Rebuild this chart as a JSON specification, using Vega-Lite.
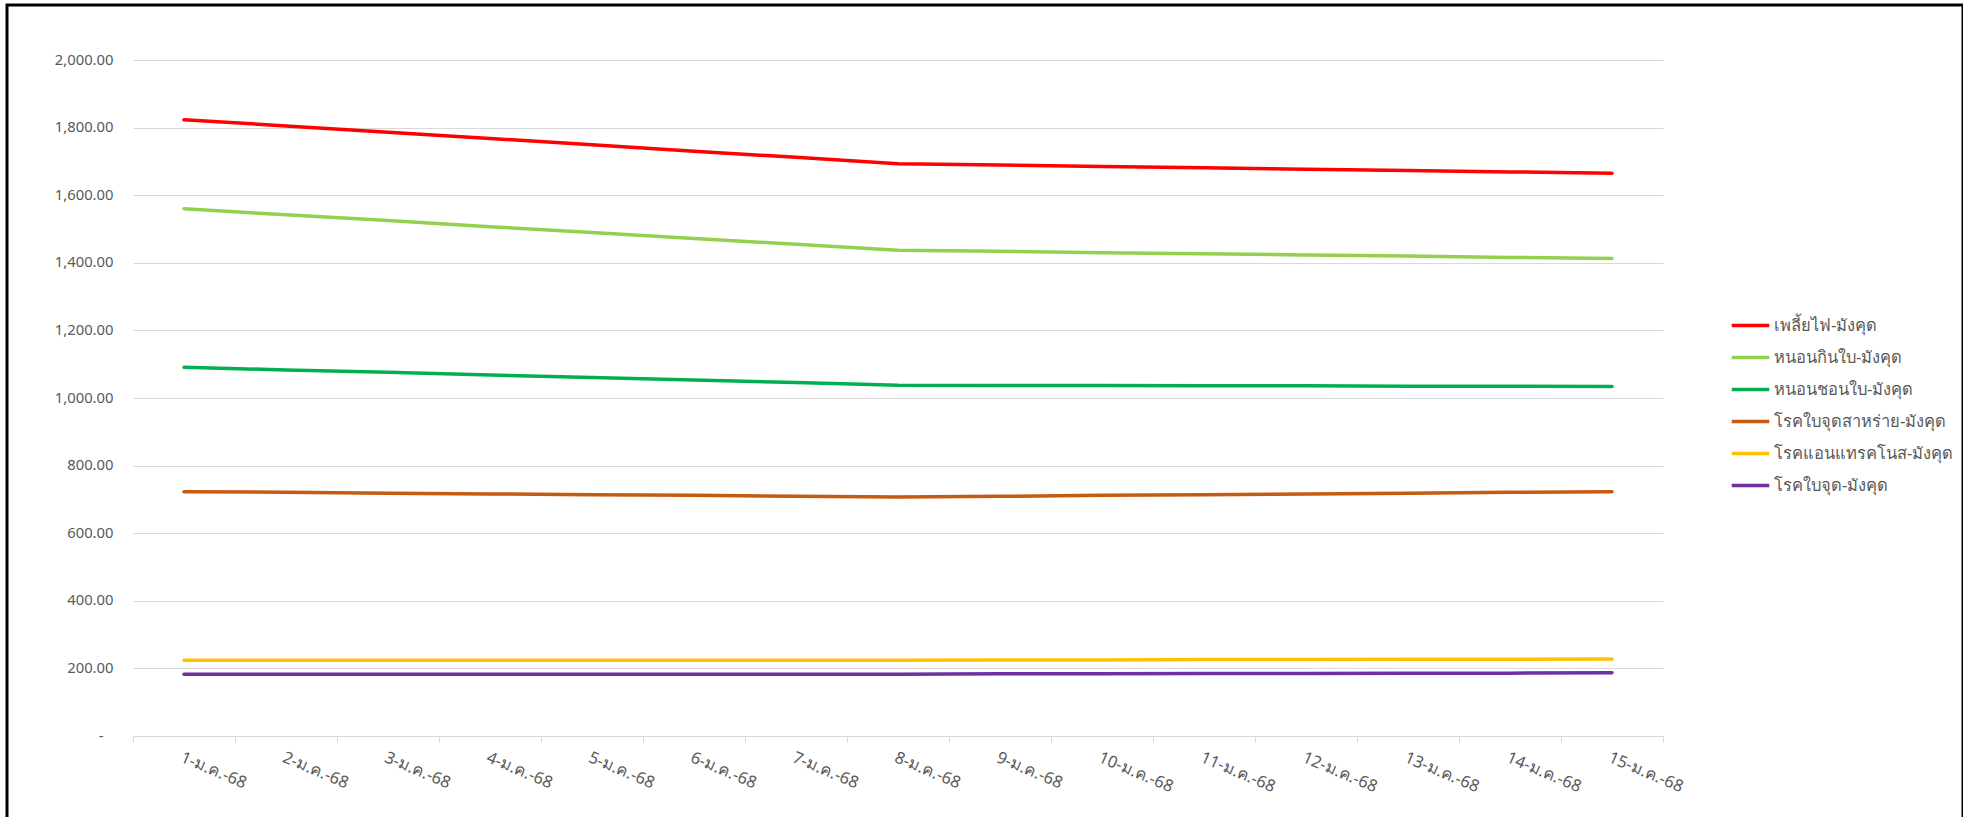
{
  "$schema": "https://vega.github.io/schema/vega-lite/v6.json",
  "autosize": {"type": "none"},
  "padding": {"left": 7, "top": 5, "right": 0, "bottom": 0},
  "width": 1956,
  "height": 830,
  "background": "#ffffff",
  "config": {
    "view": {"stroke": "#000000", "strokeWidth": 3, "fill": "#ffffff"},
    "font": "Noto Sans",
    "axis": {"labelFont": "Noto Sans", "labelColor": "#595959", "labelFontSize": 13, "gridColor": "#d9d9d9", "gridWidth": 1, "domainColor": "#d9d9d9", "tickColor": "#d9d9d9", "title": null}
  },
  "datasets": {
    "pests": [
      {"date": "1-ม.ค.-68", "series": "เพลี้ยไฟ-มังคุด", "value": 1823},
      {"date": "2-ม.ค.-68", "series": "เพลี้ยไฟ-มังคุด", "value": 1805},
      {"date": "3-ม.ค.-68", "series": "เพลี้ยไฟ-มังคุด", "value": 1786},
      {"date": "4-ม.ค.-68", "series": "เพลี้ยไฟ-มังคุด", "value": 1768},
      {"date": "5-ม.ค.-68", "series": "เพลี้ยไฟ-มังคุด", "value": 1749},
      {"date": "6-ม.ค.-68", "series": "เพลี้ยไฟ-มังคุด", "value": 1730},
      {"date": "7-ม.ค.-68", "series": "เพลี้ยไฟ-มังคุด", "value": 1712},
      {"date": "8-ม.ค.-68", "series": "เพลี้ยไฟ-มังคุด", "value": 1693},
      {"date": "9-ม.ค.-68", "series": "เพลี้ยไฟ-มังคุด", "value": 1689},
      {"date": "10-ม.ค.-68", "series": "เพลี้ยไฟ-มังคุด", "value": 1685},
      {"date": "11-ม.ค.-68", "series": "เพลี้ยไฟ-มังคุด", "value": 1681},
      {"date": "12-ม.ค.-68", "series": "เพลี้ยไฟ-มังคุด", "value": 1677},
      {"date": "13-ม.ค.-68", "series": "เพลี้ยไฟ-มังคุด", "value": 1673},
      {"date": "14-ม.ค.-68", "series": "เพลี้ยไฟ-มังคุด", "value": 1669},
      {"date": "15-ม.ค.-68", "series": "เพลี้ยไฟ-มังคุด", "value": 1665},
      {"date": "1-ม.ค.-68", "series": "หนอนกินใบ-มังคุด", "value": 1560},
      {"date": "2-ม.ค.-68", "series": "หนอนกินใบ-มังคุด", "value": 1542},
      {"date": "3-ม.ค.-68", "series": "หนอนกินใบ-มังคุด", "value": 1525},
      {"date": "4-ม.ค.-68", "series": "หนอนกินใบ-มังคุด", "value": 1507},
      {"date": "5-ม.ค.-68", "series": "หนอนกินใบ-มังคุด", "value": 1490},
      {"date": "6-ม.ค.-68", "series": "หนอนกินใบ-มังคุด", "value": 1472},
      {"date": "7-ม.ค.-68", "series": "หนอนกินใบ-มังคุด", "value": 1455},
      {"date": "8-ม.ค.-68", "series": "หนอนกินใบ-มังคุด", "value": 1437},
      {"date": "9-ม.ค.-68", "series": "หนอนกินใบ-มังคุด", "value": 1434},
      {"date": "10-ม.ค.-68", "series": "หนอนกินใบ-มังคุด", "value": 1430},
      {"date": "11-ม.ค.-68", "series": "หนอนกินใบ-มังคุด", "value": 1427},
      {"date": "12-ม.ค.-68", "series": "หนอนกินใบ-มังคุด", "value": 1423},
      {"date": "13-ม.ค.-68", "series": "หนอนกินใบ-มังคุด", "value": 1420},
      {"date": "14-ม.ค.-68", "series": "หนอนกินใบ-มังคุด", "value": 1416},
      {"date": "15-ม.ค.-68", "series": "หนอนกินใบ-มังคุด", "value": 1413},
      {"date": "1-ม.ค.-68", "series": "หนอนชอนใบ-มังคุด", "value": 1091},
      {"date": "2-ม.ค.-68", "series": "หนอนชอนใบ-มังคุด", "value": 1083},
      {"date": "3-ม.ค.-68", "series": "หนอนชอนใบ-มังคุด", "value": 1076},
      {"date": "4-ม.ค.-68", "series": "หนอนชอนใบ-มังคุด", "value": 1068},
      {"date": "5-ม.ค.-68", "series": "หนอนชอนใบ-มังคุด", "value": 1061},
      {"date": "6-ม.ค.-68", "series": "หนอนชอนใบ-มังคุด", "value": 1053},
      {"date": "7-ม.ค.-68", "series": "หนอนชอนใบ-มังคุด", "value": 1046},
      {"date": "8-ม.ค.-68", "series": "หนอนชอนใบ-มังคุด", "value": 1038},
      {"date": "9-ม.ค.-68", "series": "หนอนชอนใบ-มังคุด", "value": 1037},
      {"date": "10-ม.ค.-68", "series": "หนอนชอนใบ-มังคุด", "value": 1037},
      {"date": "11-ม.ค.-68", "series": "หนอนชอนใบ-มังคุด", "value": 1036},
      {"date": "12-ม.ค.-68", "series": "หนอนชอนใบ-มังคุด", "value": 1036},
      {"date": "13-ม.ค.-68", "series": "หนอนชอนใบ-มังคุด", "value": 1035},
      {"date": "14-ม.ค.-68", "series": "หนอนชอนใบ-มังคุด", "value": 1035},
      {"date": "15-ม.ค.-68", "series": "หนอนชอนใบ-มังคุด", "value": 1034},
      {"date": "1-ม.ค.-68", "series": "โรคใบจุดสาหร่าย-มังคุด", "value": 723},
      {"date": "2-ม.ค.-68", "series": "โรคใบจุดสาหร่าย-มังคุด", "value": 721},
      {"date": "3-ม.ค.-68", "series": "โรคใบจุดสาหร่าย-มังคุด", "value": 718},
      {"date": "4-ม.ค.-68", "series": "โรคใบจุดสาหร่าย-มังคุด", "value": 716},
      {"date": "5-ม.ค.-68", "series": "โรคใบจุดสาหร่าย-มังคุด", "value": 714},
      {"date": "6-ม.ค.-68", "series": "โรคใบจุดสาหร่าย-มังคุด", "value": 712},
      {"date": "7-ม.ค.-68", "series": "โรคใบจุดสาหร่าย-มังคุด", "value": 709},
      {"date": "8-ม.ค.-68", "series": "โรคใบจุดสาหร่าย-มังคุด", "value": 707},
      {"date": "9-ม.ค.-68", "series": "โรคใบจุดสาหร่าย-มังคุด", "value": 709},
      {"date": "10-ม.ค.-68", "series": "โรคใบจุดสาหร่าย-มังคุด", "value": 712},
      {"date": "11-ม.ค.-68", "series": "โรคใบจุดสาหร่าย-มังคุด", "value": 714},
      {"date": "12-ม.ค.-68", "series": "โรคใบจุดสาหร่าย-มังคุด", "value": 716},
      {"date": "13-ม.ค.-68", "series": "โรคใบจุดสาหร่าย-มังคุด", "value": 718},
      {"date": "14-ม.ค.-68", "series": "โรคใบจุดสาหร่าย-มังคุด", "value": 721},
      {"date": "15-ม.ค.-68", "series": "โรคใบจุดสาหร่าย-มังคุด", "value": 723},
      {"date": "1-ม.ค.-68", "series": "โรคแอนแทรคโนส-มังคุด", "value": 224},
      {"date": "2-ม.ค.-68", "series": "โรคแอนแทรคโนส-มังคุด", "value": 224},
      {"date": "3-ม.ค.-68", "series": "โรคแอนแทรคโนส-มังคุด", "value": 224},
      {"date": "4-ม.ค.-68", "series": "โรคแอนแทรคโนส-มังคุด", "value": 224},
      {"date": "5-ม.ค.-68", "series": "โรคแอนแทรคโนส-มังคุด", "value": 224},
      {"date": "6-ม.ค.-68", "series": "โรคแอนแทรคโนส-มังคุด", "value": 224},
      {"date": "7-ม.ค.-68", "series": "โรคแอนแทรคโนส-มังคุด", "value": 224},
      {"date": "8-ม.ค.-68", "series": "โรคแอนแทรคโนส-มังคุด", "value": 224},
      {"date": "9-ม.ค.-68", "series": "โรคแอนแทรคโนส-มังคุด", "value": 225},
      {"date": "10-ม.ค.-68", "series": "โรคแอนแทรคโนส-มังคุด", "value": 225},
      {"date": "11-ม.ค.-68", "series": "โรคแอนแทรคโนส-มังคุด", "value": 226},
      {"date": "12-ม.ค.-68", "series": "โรคแอนแทรคโนส-มังคุด", "value": 226},
      {"date": "13-ม.ค.-68", "series": "โรคแอนแทรคโนส-มังคุด", "value": 227},
      {"date": "14-ม.ค.-68", "series": "โรคแอนแทรคโนส-มังคุด", "value": 227},
      {"date": "15-ม.ค.-68", "series": "โรคแอนแทรคโนส-มังคุด", "value": 228},
      {"date": "1-ม.ค.-68", "series": "โรคใบจุด-มังคุด", "value": 183},
      {"date": "2-ม.ค.-68", "series": "โรคใบจุด-มังคุด", "value": 183},
      {"date": "3-ม.ค.-68", "series": "โรคใบจุด-มังคุด", "value": 183},
      {"date": "4-ม.ค.-68", "series": "โรคใบจุด-มังคุด", "value": 183},
      {"date": "5-ม.ค.-68", "series": "โรคใบจุด-มังคุด", "value": 183},
      {"date": "6-ม.ค.-68", "series": "โรคใบจุด-มังคุด", "value": 183},
      {"date": "7-ม.ค.-68", "series": "โรคใบจุด-มังคุด", "value": 183},
      {"date": "8-ม.ค.-68", "series": "โรคใบจุด-มังคุด", "value": 183},
      {"date": "9-ม.ค.-68", "series": "โรคใบจุด-มังคุด", "value": 184},
      {"date": "10-ม.ค.-68", "series": "โรคใบจุด-มังคุด", "value": 184},
      {"date": "11-ม.ค.-68", "series": "โรคใบจุด-มังคุด", "value": 185},
      {"date": "12-ม.ค.-68", "series": "โรคใบจุด-มังคุด", "value": 185},
      {"date": "13-ม.ค.-68", "series": "โรคใบจุด-มังคุด", "value": 186},
      {"date": "14-ม.ค.-68", "series": "โรคใบจุด-มังคุด", "value": 186},
      {"date": "15-ม.ค.-68", "series": "โรคใบจุด-มังคุด", "value": 187}
    ]
  },
  "data": {"name": "pests"},
  "mark": {"type": "line", "strokeWidth": 3.5, "strokeCap": "round", "strokeJoin": "round"},
  "encoding": {
    "x": {
      "field": "date",
      "type": "nominal",
      "sort": null,
      "bandPosition": 0.5,
      "scale": {"type": "band", "paddingInner": 0, "paddingOuter": 0, "range": [126, 1656]},
      "axis": {
        "tickBand": "extent",
        "grid": false,
        "offset": -99,
        "labelAngle": 23,
        "labelAlign": "left",
        "labelBaseline": "top",
        "labelPadding": 7,
        "tickSize": 6,
        "labelFontSize": 16.5,
        "labelOverlap": false,
        "domainWidth": 1
      }
    },
    "y": {
      "field": "value",
      "type": "quantitative",
      "scale": {"domain": [0, 2000], "range": [731, 55], "nice": false, "zero": true},
      "axis": {
        "values": [0, 200, 400, 600, 800, 1000, 1200, 1400, 1600, 1800, 2000],
        "offset": -126,
        "domain": false,
        "ticks": false,
        "tickSize": 0,
        "labelPadding": {"condition": {"test": "datum.value === 0", "value": 30}, "value": 20},
        "labelFontSize": 14.8,
        "labelExpr": "datum.value == 0 ? '-' : format(datum.value, ',.2f')"
      }
    },
    "color": {
      "field": "series",
      "type": "nominal",
      "scale": {
        "domain": ["เพลี้ยไฟ-มังคุด", "หนอนกินใบ-มังคุด", "หนอนชอนใบ-มังคุด", "โรคใบจุดสาหร่าย-มังคุด", "โรคแอนแทรคโนส-มังคุด", "โรคใบจุด-มังคุด"],
        "range": ["#ff0000", "#92d050", "#00b050", "#c55a11", "#ffc000", "#7030a0"]
      },
      "legend": {
        "title": null,
        "orient": "none",
        "legendX": 1729,
        "legendY": 306,
        "padding": 0,
        "symbolType": "M-1.5,0H1.5",
        "symbolSize": 625,
        "symbolStrokeWidth": 3.5,
        "labelFontSize": 16.5,
        "labelColor": "#595959",
        "labelFont": "Noto Sans",
        "labelOffset": 9,
        "rowPadding": 9,
        "labelLimit": 300
      }
    }
  }
}
